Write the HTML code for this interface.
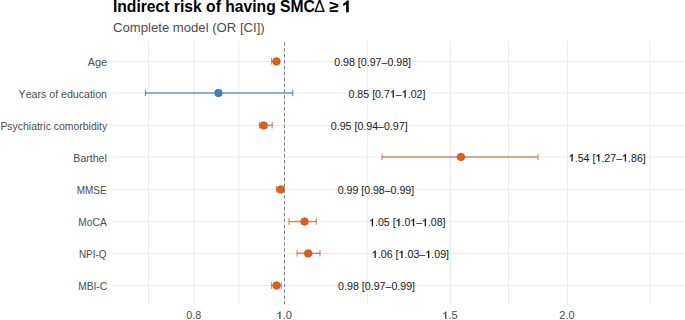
<!DOCTYPE html>
<html><head><meta charset="utf-8"><style>
html,body{margin:0;padding:0;background:#fff;}
body{width:685px;height:320px;overflow:hidden;position:relative;font-family:"Liberation Sans",sans-serif;font-kerning:none;}
svg{position:absolute;left:0;top:0;}
.ann{font-size:10.6px;fill:#1a1a1a;}
.yl{font-size:10.4px;fill:#4d4d4d;}
.xl{font-size:10.2px;fill:#4d4d4d;}
.title{font-size:15.5px;font-weight:bold;fill:#000;}
.sub{font-size:13.1px;fill:#4d4d4d;}
.tn{font-weight:normal;}
.h1{fill-opacity:0;}

</style></head><body>
<svg width="685" height="320" viewBox="0 0 685 320">
<g transform="translate(113.2,12.2) scale(1,1.07)"><text x="-0.29" y="0.00" id="t0" class="title" textLength="201.98" lengthAdjust="spacingAndGlyphs">Indirect risk of having SMC</text><text x="200.94" y="0.00" id="t1" class="title tn" textLength="10.61" lengthAdjust="spacingAndGlyphs">Δ</text><text x="215.69" y="0.00" id="t2" class="title" textLength="9.23" lengthAdjust="spacingAndGlyphs">≥</text></g>
<path d="M346.1 12.25L348.75 12.25L348.75 0.55L346.85 0.55C346.35 1.75 344.95 2.95 343.1 3.65L343.1 5.8C344.3 5.4 345.35 4.8 346.1 4.15Z" fill="#000"/>
<g transform="translate(113.2,32.45) scale(1,1.04)"><text x="-0.13" y="0.00" id="s0" class="sub" textLength="151.57" lengthAdjust="spacingAndGlyphs">Complete model (OR [CI])</text></g>
<line x1="113.0" x2="685" y1="61.40" y2="61.40" stroke="#EBEBEB" stroke-width="1.1"/>
<line x1="113.0" x2="685" y1="93.05" y2="93.05" stroke="#EBEBEB" stroke-width="1.1"/>
<line x1="113.0" x2="685" y1="125.40" y2="125.40" stroke="#EBEBEB" stroke-width="1.1"/>
<line x1="113.0" x2="685" y1="156.95" y2="156.95" stroke="#EBEBEB" stroke-width="1.1"/>
<line x1="113.0" x2="685" y1="189.40" y2="189.40" stroke="#EBEBEB" stroke-width="1.1"/>
<line x1="113.0" x2="685" y1="221.55" y2="221.55" stroke="#EBEBEB" stroke-width="1.1"/>
<line x1="113.0" x2="685" y1="253.40" y2="253.40" stroke="#EBEBEB" stroke-width="1.1"/>
<line x1="113.0" x2="685" y1="285.50" y2="285.50" stroke="#EBEBEB" stroke-width="1.1"/>
<line x1="148.5" x2="148.5" y1="40.6" y2="304.2" stroke="#EDEDED" stroke-width="1"/>
<line x1="239.0" x2="239.0" y1="40.6" y2="304.2" stroke="#EDEDED" stroke-width="1"/>
<line x1="367.3" x2="367.3" y1="40.6" y2="304.2" stroke="#EDEDED" stroke-width="1"/>
<line x1="508.5" x2="508.5" y1="40.6" y2="304.2" stroke="#EDEDED" stroke-width="1"/>
<line x1="649.8" x2="649.8" y1="40.6" y2="304.2" stroke="#EDEDED" stroke-width="1"/>
<line x1="194.0" x2="194.0" y1="40.6" y2="304.2" stroke="#EBEBEB" stroke-width="1.1"/>
<line x1="284.5" x2="284.5" y1="40.6" y2="304.2" stroke="#EBEBEB" stroke-width="1.1"/>
<line x1="450.5" x2="450.5" y1="40.6" y2="304.2" stroke="#EBEBEB" stroke-width="1.1"/>
<line x1="567.5" x2="567.5" y1="40.6" y2="304.2" stroke="#EBEBEB" stroke-width="1.1"/>
<g stroke="#D0501E" stroke-opacity="0.66">
<line x1="271.60" x2="276.60" y1="61.40" y2="61.40" stroke-width="1.55"/>
<line x1="271.60" x2="271.60" y1="58.10" y2="64.60" stroke-width="1.2"/>
<line x1="276.60" x2="276.60" y1="58.10" y2="64.60" stroke-width="1.2"/>
</g>
<circle cx="276.50" cy="61.40" r="3.75" fill="#D6621E" stroke="#CC5414" stroke-width="0.8"/>
<g stroke="#285FAA" stroke-opacity="0.66">
<line x1="145.40" x2="292.70" y1="93.05" y2="93.05" stroke-width="1.55"/>
<line x1="145.40" x2="145.40" y1="89.75" y2="96.25" stroke-width="1.2"/>
<line x1="292.70" x2="292.70" y1="89.75" y2="96.25" stroke-width="1.2"/>
</g>
<circle cx="218.40" cy="93.05" r="3.75" fill="#4282BA" stroke="#3773AF" stroke-width="0.8"/>
<g stroke="#D0501E" stroke-opacity="0.66">
<line x1="259.40" x2="272.20" y1="125.40" y2="125.40" stroke-width="1.55"/>
<line x1="259.40" x2="259.40" y1="122.10" y2="128.60" stroke-width="1.2"/>
<line x1="272.20" x2="272.20" y1="122.10" y2="128.60" stroke-width="1.2"/>
</g>
<circle cx="263.75" cy="125.40" r="3.75" fill="#D6621E" stroke="#CC5414" stroke-width="0.8"/>
<g stroke="#D0501E" stroke-opacity="0.66">
<line x1="381.90" x2="537.90" y1="156.95" y2="156.95" stroke-width="1.55"/>
<line x1="381.90" x2="381.90" y1="153.65" y2="160.15" stroke-width="1.2"/>
<line x1="537.90" x2="537.90" y1="153.65" y2="160.15" stroke-width="1.2"/>
</g>
<circle cx="460.90" cy="156.95" r="3.75" fill="#D6621E" stroke="#CC5414" stroke-width="0.8"/>
<g stroke="#D0501E" stroke-opacity="0.66">
<line x1="276.40" x2="280.70" y1="189.40" y2="189.40" stroke-width="1.55"/>
<line x1="276.40" x2="276.40" y1="186.10" y2="192.60" stroke-width="1.2"/>
<line x1="280.70" x2="280.70" y1="186.10" y2="192.60" stroke-width="1.2"/>
</g>
<circle cx="280.85" cy="189.40" r="3.75" fill="#D6621E" stroke="#CC5414" stroke-width="0.8"/>
<g stroke="#D0501E" stroke-opacity="0.66">
<line x1="289.00" x2="316.30" y1="221.55" y2="221.55" stroke-width="1.55"/>
<line x1="289.00" x2="289.00" y1="218.25" y2="224.75" stroke-width="1.2"/>
<line x1="316.30" x2="316.30" y1="218.25" y2="224.75" stroke-width="1.2"/>
</g>
<circle cx="304.50" cy="221.55" r="3.75" fill="#D6621E" stroke="#CC5414" stroke-width="0.8"/>
<g stroke="#D0501E" stroke-opacity="0.66">
<line x1="297.10" x2="320.00" y1="253.40" y2="253.40" stroke-width="1.55"/>
<line x1="297.10" x2="297.10" y1="250.10" y2="256.60" stroke-width="1.2"/>
<line x1="320.00" x2="320.00" y1="250.10" y2="256.60" stroke-width="1.2"/>
</g>
<circle cx="308.20" cy="253.40" r="3.75" fill="#D6621E" stroke="#CC5414" stroke-width="0.8"/>
<g stroke="#D0501E" stroke-opacity="0.66">
<line x1="271.60" x2="281.40" y1="285.50" y2="285.50" stroke-width="1.55"/>
<line x1="271.60" x2="271.60" y1="282.20" y2="288.70" stroke-width="1.2"/>
<line x1="281.40" x2="281.40" y1="282.20" y2="288.70" stroke-width="1.2"/>
</g>
<circle cx="276.60" cy="285.50" r="3.75" fill="#D6621E" stroke="#CC5414" stroke-width="0.8"/>
<line x1="284.5" x2="284.5" y1="42.3" y2="304.4" stroke="#808080" stroke-width="1.0" stroke-dasharray="3.3 2.586"/>
<text x="334.23" y="66.00" id="a0" class="ann" textLength="76.86" lengthAdjust="spacingAndGlyphs">0.98 [0.97–0.98]</text>
<text x="87.88" y="65.50" id="l0" class="yl" textLength="19.20" lengthAdjust="spacingAndGlyphs">Age</text>
<text x="348.48" y="97.65" id="a1" class="ann" textLength="77.00" lengthAdjust="spacingAndGlyphs">0.85 [0.7<tspan class="h1">1</tspan>–<tspan class="h1">1</tspan>.02]</text>
<text x="18.63" y="97.50" id="l1" class="yl" textLength="88.36" lengthAdjust="spacingAndGlyphs">Years of education</text>
<text x="330.82" y="130.00" id="a2" class="ann" textLength="76.78" lengthAdjust="spacingAndGlyphs">0.95 [0.94–0.97]</text>
<text x="0.40" y="129.60" id="l2" class="yl" textLength="106.77" lengthAdjust="spacingAndGlyphs">Psychiatric comorbidity</text>
<text x="568.79" y="161.55" id="a3" class="ann" textLength="76.99" lengthAdjust="spacingAndGlyphs"><tspan class="h1">1</tspan>.54 [<tspan class="h1">1</tspan>.27–<tspan class="h1">1</tspan>.86]</text>
<text x="73.37" y="161.90" id="l3" class="yl" textLength="33.41" lengthAdjust="spacingAndGlyphs">Barthel</text>
<text x="337.72" y="194.00" id="a4" class="ann" textLength="76.35" lengthAdjust="spacingAndGlyphs">0.99 [0.98–0.99]</text>
<text x="76.65" y="193.70" id="l4" class="yl" textLength="29.96" lengthAdjust="spacingAndGlyphs">MMSE</text>
<text x="369.13" y="226.15" id="a5" class="ann" textLength="76.41" lengthAdjust="spacingAndGlyphs"><tspan class="h1">1</tspan>.05 [<tspan class="h1">1</tspan>.0<tspan class="h1">1</tspan>–<tspan class="h1">1</tspan>.08]</text>
<text x="78.16" y="225.60" id="l5" class="yl" textLength="28.60" lengthAdjust="spacingAndGlyphs">MoCA</text>
<text x="371.86" y="258.00" id="a6" class="ann" textLength="77.21" lengthAdjust="spacingAndGlyphs"><tspan class="h1">1</tspan>.06 [<tspan class="h1">1</tspan>.03–<tspan class="h1">1</tspan>.09]</text>
<text x="78.89" y="257.70" id="l6" class="yl" textLength="27.73" lengthAdjust="spacingAndGlyphs">NPI-Q</text>
<text x="338.12" y="290.10" id="a7" class="ann" textLength="76.97" lengthAdjust="spacingAndGlyphs">0.98 [0.97–0.99]</text>
<text x="78.13" y="289.70" id="l7" class="yl" textLength="29.08" lengthAdjust="spacingAndGlyphs">MBI-C</text>
<text x="186.36" y="318.90" id="x0" class="xl" textLength="15.01" lengthAdjust="spacingAndGlyphs">0.8</text>
<text x="276.43" y="318.90" id="x1" class="xl" textLength="15.54" lengthAdjust="spacingAndGlyphs"><tspan class="h1">1</tspan>.0</text>
<text x="442.25" y="318.90" id="x2" class="xl" textLength="15.40" lengthAdjust="spacingAndGlyphs"><tspan class="h1">1</tspan>.5</text>
<text x="559.27" y="318.90" id="x3" class="xl" textLength="15.34" lengthAdjust="spacingAndGlyphs">2.0</text>
<path d="M393.89 97.65 L392.58 97.65 L392.58 91.87 C392.35 92.09 392.05 92.30 391.73 92.48 C391.41 92.66 391.11 92.80 390.88 92.88 L390.88 91.84 C391.40 91.60 391.86 91.31 392.25 90.97 C392.65 90.63 392.93 90.34 393.10 90.06 L393.89 90.06Z" fill="#1a1a1a"/>
<path d="M405.76 97.65 L404.46 97.65 L404.46 91.87 C404.22 92.09 403.92 92.30 403.60 92.48 C403.28 92.66 402.98 92.80 402.75 92.88 L402.75 91.84 C403.27 91.60 403.73 91.31 404.12 90.97 C404.52 90.63 404.80 90.34 404.97 90.06 L405.76 90.06Z" fill="#1a1a1a"/>
<path d="M572.76 161.55 L571.46 161.55 L571.46 155.77 C571.22 155.99 570.92 156.20 570.60 156.38 C570.28 156.56 569.99 156.70 569.75 156.78 L569.75 155.74 C570.27 155.50 570.73 155.21 571.13 154.87 C571.52 154.53 571.80 154.24 571.97 153.96 L572.76 153.96Z" fill="#1a1a1a"/>
<path d="M599.41 161.55 L598.11 161.55 L598.11 155.77 C597.88 155.99 597.58 156.20 597.26 156.38 C596.94 156.56 596.64 156.70 596.40 156.78 L596.40 155.74 C596.93 155.50 597.38 155.21 597.78 154.87 C598.17 154.53 598.45 154.24 598.62 153.96 L599.41 153.96Z" fill="#1a1a1a"/>
<path d="M626.06 161.55 L624.76 161.55 L624.76 155.77 C624.53 155.99 624.23 156.20 623.91 156.38 C623.59 156.56 623.29 156.70 623.05 156.78 L623.05 155.74 C623.58 155.50 624.04 155.21 624.43 154.87 C624.83 154.53 625.10 154.24 625.27 153.96 L626.06 153.96Z" fill="#1a1a1a"/>
<path d="M373.07 226.15 L371.78 226.15 L371.78 220.37 C371.54 220.59 371.25 220.80 370.93 220.98 C370.61 221.16 370.32 221.30 370.08 221.38 L370.08 220.34 C370.60 220.10 371.06 219.81 371.45 219.47 C371.84 219.13 372.12 218.84 372.28 218.56 L373.07 218.56Z" fill="#1a1a1a"/>
<path d="M399.51 226.15 L398.22 226.15 L398.22 220.37 C397.98 220.59 397.69 220.80 397.37 220.98 C397.05 221.16 396.76 221.30 396.52 221.38 L396.52 220.34 C397.04 220.10 397.50 219.81 397.89 219.47 C398.28 219.13 398.56 218.84 398.73 218.56 L399.51 218.56Z" fill="#1a1a1a"/>
<path d="M414.21 226.15 L412.92 226.15 L412.92 220.37 C412.68 220.59 412.39 220.80 412.07 220.98 C411.75 221.16 411.46 221.30 411.22 221.38 L411.22 220.34 C411.74 220.10 412.20 219.81 412.59 219.47 C412.98 219.13 413.26 218.84 413.43 218.56 L414.21 218.56Z" fill="#1a1a1a"/>
<path d="M425.98 226.15 L424.69 226.15 L424.69 220.37 C424.46 220.59 424.16 220.80 423.84 220.98 C423.52 221.16 423.23 221.30 423.00 221.38 L423.00 220.34 C423.51 220.10 423.97 219.81 424.36 219.47 C424.75 219.13 425.03 218.84 425.20 218.56 L425.98 218.56Z" fill="#1a1a1a"/>
<path d="M375.84 258.00 L374.54 258.00 L374.54 252.22 C374.30 252.44 374.00 252.65 373.68 252.83 C373.36 253.01 373.06 253.15 372.82 253.23 L372.82 252.19 C373.35 251.95 373.81 251.66 374.20 251.32 C374.60 250.98 374.88 250.69 375.05 250.41 L375.84 250.41Z" fill="#1a1a1a"/>
<path d="M402.57 258.00 L401.26 258.00 L401.26 252.22 C401.03 252.44 400.73 252.65 400.41 252.83 C400.09 253.01 399.79 253.15 399.55 253.23 L399.55 252.19 C400.08 251.95 400.54 251.66 400.93 251.32 C401.33 250.98 401.61 250.69 401.78 250.41 L402.57 250.41Z" fill="#1a1a1a"/>
<path d="M429.30 258.00 L427.99 258.00 L427.99 252.22 C427.76 252.44 427.46 252.65 427.14 252.83 C426.81 253.01 426.52 253.15 426.28 253.23 L426.28 252.19 C426.80 251.95 427.26 251.66 427.66 251.32 C428.06 250.98 428.33 250.69 428.51 250.41 L429.30 250.41Z" fill="#1a1a1a"/>
<path d="M280.59 318.90 L279.23 318.90 L279.23 313.34 C278.98 313.54 278.67 313.75 278.33 313.92 C278.00 314.10 277.68 314.23 277.44 314.31 L277.44 313.31 C277.98 313.08 278.47 312.80 278.88 312.47 C279.29 312.15 279.58 311.86 279.76 311.60 L280.59 311.60Z" fill="#4d4d4d"/>
<path d="M446.37 318.90 L445.02 318.90 L445.02 313.34 C444.78 313.54 444.47 313.75 444.13 313.92 C443.80 314.10 443.49 314.23 443.25 314.31 L443.25 313.31 C443.79 313.08 444.27 312.80 444.68 312.47 C445.09 312.15 445.38 311.86 445.55 311.60 L446.37 311.60Z" fill="#4d4d4d"/>
</svg>
</body></html>
